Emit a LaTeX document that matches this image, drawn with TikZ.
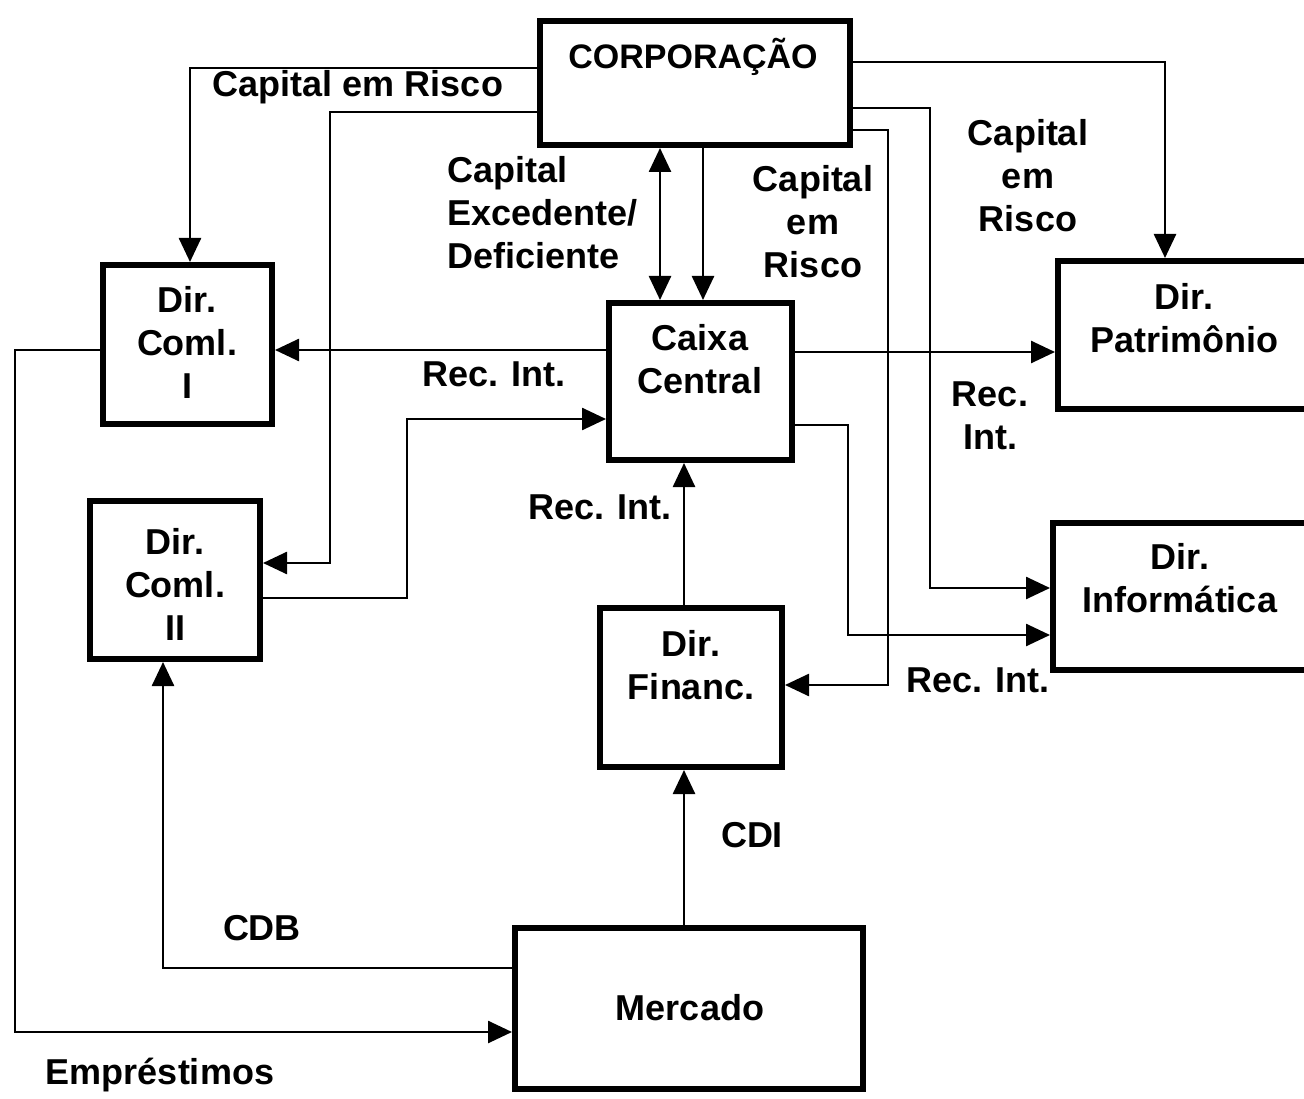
\documentclass[tikz,border=0pt]{standalone}
\usepackage{fontspec}
\setmainfont{Liberation Sans}
\usetikzlibrary{arrows.meta}
\begin{document}
\begin{tikzpicture}[x=1pt,y=-1pt,
  box/.style={draw,line width=6pt,inner sep=0pt},
  txt/.style={font=\fontsize{36}{43}\selectfont\bfseries,align=center,inner sep=0pt},
  wire/.style={line width=2.6pt},
  arr/.style={wire,-{Triangle[length=24pt,width=22pt]}},
  arrboth/.style={wire,{Triangle[length=24pt,width=22pt]}-{Triangle[length=24pt,width=22pt]}}]
\useasboundingbox (0,0) rectangle (1304,1099);

% boxes (the two on the right run past the page edge)
\node[box,minimum width=310pt,minimum height=124pt] (corp) at (695,83) {};
\node[box,minimum width=169pt,minimum height=159pt] (coml1) at (187.5,344.5) {};
\node[box,minimum width=170pt,minimum height=158pt] (coml2) at (175,580) {};
\node[box,minimum width=183pt,minimum height=157pt] (cc) at (700.5,381.5) {};
\node[box,minimum width=259pt,minimum height=148pt] (patr) at (1187.5,335) {};
\node[box,minimum width=264pt,minimum height=147pt] (info) at (1185,596.5) {};
\node[box,minimum width=182pt,minimum height=159pt] (fin) at (691,687.5) {};
\node[box,minimum width=348pt,minimum height=161pt] (merc) at (689,1008.5) {};

% box captions
\node[txt,font=\fontsize{34}{43}\selectfont\bfseries] (corpT) at (693,57) {CORPORAÇÃO};
\node[txt] (coml1T) at (187,342) {Dir.\\Coml.\\I};
\node[txt] (coml2T) at (175,584) {Dir.\\Coml.\\II};
\node[txt] (ccT) at (700,359) {Caixa\\Central};
\node[txt] (patrT) at (1184,318) {Dir.\\Patrimônio};
\node[txt] (infoT) at (1180,578) {Dir.\\Informática};
\node[txt] (finT) at (691,665) {Dir.\\Financ.};
\node[txt] (mercT) at (690,1008) {Mercado};

% capital flows from the corporation
\draw[arr] (corp.west |- 0,68) -| (190,0 |- coml1.north);
\draw[arr] (corp.west |- 0,112) -| (330,563) -- (coml2.east |- 0,563);
\draw[arrboth] (660,0 |- corp.south) -- (660,0 |- cc.north);
\draw[arr] (703,0 |- corp.south) -- (703,0 |- cc.north);
\draw[arr] (corp.east |- 0,62) -| (1165,0 |- patr.north);
\draw[arr] (corp.east |- 0,108) -| (930,588) -- (info.west |- 0,588);
\draw[arr] (corp.east |- 0,130) -| (888,685) -- (fin.east |- 0,685);

% internal resources around the central cash
\draw[arr] (cc.west |- 0,350) -- (coml1.east |- 0,350);
\draw[arr] (coml2.east |- 0,598) -| (407,419) -- (cc.west |- 0,419);
\draw[arr] (cc.east |- 0,352) -- (patr.west |- 0,352);
\draw[arr] (cc.east |- 0,425) -| (848,635) -- (info.west |- 0,635);
\draw[arr] (684,0 |- fin.north) -- (684,0 |- cc.south);

% market flows
\draw[arr] (684,0 |- merc.north) -- (684,0 |- fin.south);
\draw[arr] (merc.west |- 0,968) -| (163,0 |- coml2.south);
\draw[arr] (coml1.west |- 0,350) -| (15,1032) -- (merc.west |- 0,1032);

% flow labels
\node[txt] (l1) at (358,87) {Capital em Risco};
\node[txt,align=left,anchor=west] (l2) at (447,213) {Capital\\Excedente/\\Deficiente};
\node[txt] (l3) at (813,222) {Capital\\em\\Risco};
\node[txt] (l4) at (1028,176) {Capital\\em\\Risco};
\node[txt] (l5) at (494,374) {Rec. Int.};
\node[txt] (l6) at (990,416) {Rec.\\Int.};
\node[txt] (l7) at (978,680) {Rec. Int.};
\node[txt] (l8) at (600,507) {Rec. Int.};
\node[txt] (l9) at (752,835) {CDI};
\node[txt] (l10) at (262,928) {CDB};
\node[txt] (l11) at (160,1075) {Empréstimos};
\end{tikzpicture}
\end{document}
